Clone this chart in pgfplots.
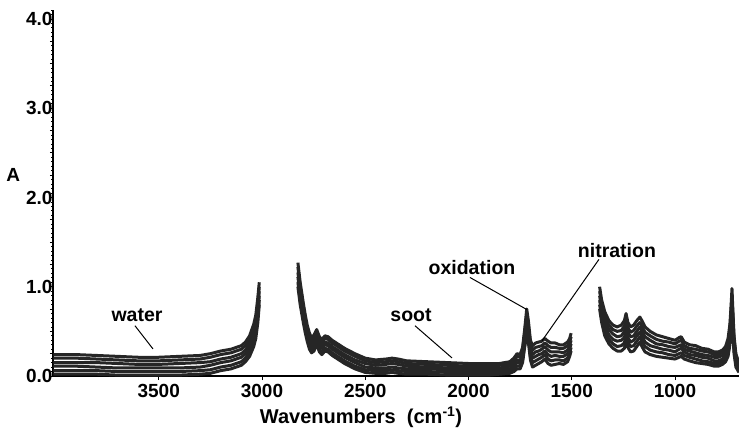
\documentclass[border=0pt]{standalone}
\usepackage{fontspec}
\setmainfont{Liberation Sans}
\usepackage{pgfplots}
\usepackage{pgfplotstable}
\pgfplotsset{compat=1.18}

\definecolor{spec}{HTML}{262626}

% IR spectra, six samples; nan rows mark the cut-out regions
\pgfplotstableread{
x     a    b    c    d    e    f
4010 0.24 0.20 0.15 0.11 0.06 0.02
3900 0.24 0.20 0.15 0.11 0.06 0.02
3800 0.23 0.19 0.15 0.10 0.06 0.02
3700 0.22 0.18 0.14 0.09 0.05 0.01
3600 0.21 0.17 0.13 0.09 0.05 0.01
3500 0.21 0.17 0.13 0.09 0.05 0.01
3400 0.22 0.18 0.14 0.09 0.05 0.01
3300 0.23 0.19 0.15 0.10 0.06 0.02
3250 0.25 0.21 0.16 0.12 0.07 0.03
3200 0.28 0.24 0.19 0.15 0.10 0.06
3150 0.30 0.26 0.21 0.17 0.12 0.08
3100 0.34 0.30 0.25 0.21 0.16 0.12
3080 0.38 0.34 0.29 0.25 0.20 0.16
3060 0.45 0.40 0.36 0.31 0.27 0.22
3040 0.58 0.53 0.48 0.43 0.38 0.33
3030 0.68 0.63 0.57 0.52 0.47 0.42
3020 0.88 0.82 0.77 0.71 0.66 0.60
3013 1.05 1.00 0.95 0.90 0.85 0.80
2950 nan  nan  nan  nan  nan  nan
2826 1.27 1.22 1.16 1.11 1.05 1.00
2815 1.05 1.00 0.95 0.90 0.85 0.80
2800 0.82 0.78 0.73 0.69 0.64 0.60
2790 0.68 0.64 0.60 0.56 0.52 0.48
2780 0.56 0.52 0.49 0.45 0.42 0.38
2770 0.48 0.44 0.41 0.37 0.34 0.30
2760 0.43 0.40 0.36 0.33 0.29 0.26
2748 0.46 0.42 0.39 0.35 0.32 0.28
2735 0.52 0.49 0.46 0.42 0.39 0.36
2722 0.44 0.41 0.37 0.34 0.30 0.27
2710 0.41 0.38 0.34 0.31 0.27 0.24
2695 0.45 0.42 0.38 0.35 0.31 0.28
2680 0.44 0.41 0.37 0.34 0.30 0.27
2660 0.40 0.37 0.33 0.30 0.26 0.23
2640 0.37 0.34 0.30 0.27 0.23 0.20
2600 0.31 0.28 0.24 0.21 0.17 0.14
2550 0.25 0.22 0.18 0.15 0.11 0.08
2500 0.20 0.17 0.14 0.10 0.07 0.04
2450 0.18 0.15 0.12 0.09 0.06 0.03
2400 0.19 0.16 0.13 0.09 0.06 0.03
2370 0.20 0.17 0.14 0.10 0.07 0.04
2340 0.19 0.16 0.13 0.09 0.06 0.03
2300 0.17 0.14 0.11 0.08 0.05 0.02
2200 0.16 0.13 0.10 0.08 0.05 0.02
2100 0.15 0.12 0.09 0.07 0.04 0.01
2000 0.14 0.11 0.09 0.06 0.04 0.01
1900 0.14 0.11 0.09 0.06 0.04 0.01
1850 0.14 0.12 0.09 0.07 0.04 0.02
1800 0.16 0.13 0.11 0.08 0.06 0.03
1780 0.20 0.17 0.14 0.11 0.08 0.05
1765 0.25 0.22 0.18 0.15 0.11 0.08
1750 0.24 0.21 0.17 0.14 0.11 0.08
1738 0.32 0.29 0.25 0.22 0.18 0.15
1728 0.52 0.48 0.44 0.40 0.36 0.32
1718 0.75 0.69 0.63 0.57 0.51 0.45
1710 0.62 0.57 0.52 0.48 0.43 0.38
1700 0.40 0.36 0.31 0.27 0.22 0.18
1690 0.34 0.29 0.24 0.20 0.15 0.10
1675 0.37 0.32 0.27 0.22 0.17 0.12
1660 0.38 0.33 0.28 0.24 0.19 0.14
1645 0.39 0.34 0.30 0.25 0.21 0.16
1630 0.42 0.37 0.33 0.28 0.24 0.19
1615 0.39 0.34 0.29 0.24 0.19 0.14
1600 0.37 0.32 0.27 0.22 0.17 0.12
1580 0.37 0.32 0.27 0.23 0.18 0.13
1560 0.35 0.31 0.27 0.22 0.18 0.14
1540 0.35 0.31 0.26 0.22 0.17 0.13
1520 0.38 0.34 0.29 0.25 0.20 0.16
1510 0.42 0.38 0.34 0.30 0.26 0.22
1503 0.48 0.44 0.40 0.36 0.32 0.28
1440 nan  nan  nan  nan  nan  nan
1365 1.00 0.95 0.90 0.85 0.80 0.75
1355 0.85 0.80 0.75 0.70 0.65 0.60
1340 0.72 0.67 0.61 0.56 0.50 0.45
1320 0.62 0.57 0.52 0.46 0.41 0.36
1300 0.57 0.52 0.47 0.41 0.36 0.31
1280 0.55 0.50 0.44 0.39 0.33 0.28
1260 0.57 0.51 0.45 0.40 0.34 0.28
1245 0.62 0.56 0.50 0.43 0.37 0.31
1237 0.70 0.64 0.58 0.52 0.46 0.40
1228 0.60 0.54 0.49 0.43 0.38 0.32
1215 0.55 0.49 0.44 0.38 0.33 0.27
1200 0.57 0.51 0.45 0.40 0.34 0.28
1185 0.62 0.56 0.50 0.45 0.39 0.33
1170 0.66 0.60 0.55 0.49 0.44 0.38
1160 0.62 0.56 0.50 0.45 0.39 0.33
1145 0.55 0.49 0.44 0.38 0.33 0.27
1120 0.50 0.45 0.40 0.34 0.29 0.24
1090 0.46 0.41 0.36 0.32 0.27 0.22
1060 0.44 0.39 0.35 0.30 0.26 0.21
1030 0.42 0.38 0.33 0.29 0.24 0.20
1000 0.40 0.36 0.32 0.27 0.23 0.19
980  0.43 0.39 0.34 0.30 0.25 0.21
970  0.44 0.40 0.35 0.31 0.26 0.22
955  0.38 0.34 0.30 0.27 0.23 0.19
930  0.35 0.31 0.28 0.24 0.21 0.17
900  0.34 0.30 0.26 0.23 0.19 0.15
870  0.31 0.28 0.24 0.21 0.17 0.14
840  0.30 0.27 0.23 0.20 0.16 0.13
810  0.27 0.24 0.21 0.17 0.14 0.11
790  0.27 0.24 0.21 0.17 0.14 0.11
770  0.29 0.26 0.23 0.19 0.16 0.13
755  0.33 0.30 0.26 0.23 0.19 0.16
743  0.42 0.38 0.34 0.30 0.26 0.22
734  0.58 0.53 0.49 0.44 0.40 0.35
728  0.80 0.75 0.70 0.65 0.60 0.55
724  0.98 0.92 0.87 0.81 0.76 0.70
720  0.75 0.70 0.65 0.60 0.55 0.50
714  0.45 0.41 0.37 0.33 0.29 0.25
705  0.25 0.22 0.19 0.16 0.13 0.10
690  0.14 0.12 0.10 0.08 0.06 0.04
}\spectra

\begin{document}
\begin{tikzpicture}
\useasboundingbox (-53pt,-55pt) rectangle (686pt,376pt);
\begin{axis}[
  at={(0pt,0pt)}, anchor=south west,
  scale only axis,
  width=686pt, height=366pt,
  x dir=reverse,
  xmin=690, xmax=4012,
  ymin=0, ymax=4.1,
  axis x line=bottom, axis y line=left,
  axis line style={-, line width=1.2pt},
  xtick={1000,1500,2000,2500,3000,3500},
  ytick={0,1,2,3,4},
  minor ytick={0,0.05,...,4.1},
  extra y ticks={0.25,0.5,0.75,1.25,1.5,1.75,2.25,2.5,2.75,3.25,3.5,3.75},
  extra y tick labels={},
  extra y tick style={major tick length=3pt},
  tick align=outside,
  major tick length=4pt, minor tick length=1.5pt,
  tick style={black, line width=0.8pt},
  yticklabel style={/pgf/number format/fixed, /pgf/number format/fixed zerofill,
    /pgf/number format/precision=1, xshift=7pt},
  xticklabel style={yshift=-1pt},
  /pgf/number format/assume math mode=true,
  /pgf/number format/1000 sep={},
  ticklabel style={font=\bfseries\fontsize{19}{22}\selectfont},
  xlabel={Wavenumbers\ \ (cm\textsuperscript{-1})},
  xlabel style={font=\bfseries\fontsize{20}{24}\selectfont, at={(axis description cs:0.449,-0.113)}, anchor=center},
  ylabel={A},
  ylabel style={font=\bfseries\fontsize{19}{22}\selectfont, at={(axis description cs:-0.058,0.549)}, rotate=-90, anchor=center},
  unbounded coords=jump,
  every axis plot/.append style={spec, line width=3pt, line join=round},
]
\pgfplotsinvokeforeach{a,b,c,d,e,f}{
  \addplot[no marks] table[x=x, y=#1] {\spectra};
}
\begin{scope}[font=\bfseries\fontsize{19.5}{22}\selectfont]
\node at (axis cs:3605,0.676) {water};
\draw[line width=1pt] (axis cs:3615,0.563) -- (axis cs:3528,0.304);
\node at (axis cs:2278,0.676) {soot};
\draw[line width=1pt] (axis cs:2259,0.563) -- (axis cs:2080,0.203);
\node at (axis cs:1983,1.217) {oxidation};
\draw[line width=1pt] (axis cs:1993,1.104) -- (axis cs:1717,0.744);
\node at (axis cs:1281,1.408) {nitration};
\draw[line width=1pt] (axis cs:1368,1.307) -- (axis cs:1644,0.394);
\end{scope}
\end{axis}
\end{tikzpicture}
\end{document}
